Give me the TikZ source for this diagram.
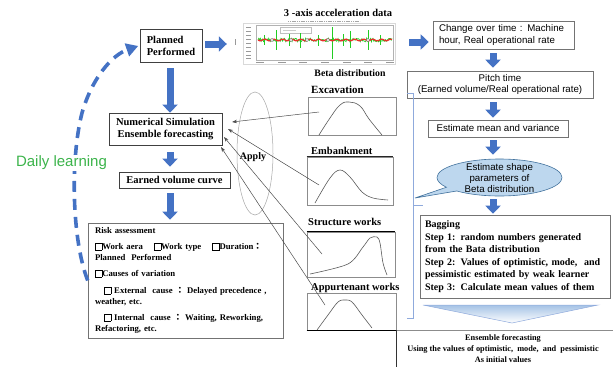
\documentclass[tikz,border=0pt]{standalone}
\usepackage{fontspec}
\setmainfont{Liberation Serif}
\setsansfont{Liberation Sans}
\newfontfamily\cjkfont{Noto Sans CJK JP}
\usetikzlibrary{arrows.meta,shapes.callouts,shapes.geometric,shadows}
\definecolor{blk}{HTML}{4472C4}
\definecolor{dlgreen}{HTML}{3CB44B}
\definecolor{callfill}{HTML}{BDD7EE}
\definecolor{callline}{HTML}{41719C}
\definecolor{bracecol}{HTML}{8FAADC}
\definecolor{sig}{HTML}{22CC22}
\definecolor{sigred}{HTML}{E8302A}
\newcommand\cbx{{\setlength{\fboxsep}{0pt}\setlength{\fboxrule}{0.5pt}\fbox{\rule{0pt}{6.3pt}\hspace{6.3pt}}}}
\newcommand\fcol{{\cjkfont ：}}
\begin{document}
\begin{tikzpicture}[x=1pt,y=-1pt,
  sbox/.style={draw=black!75, line width=0.7pt, fill=white, inner sep=0pt, font=\fontsize{10.5}{12}\selectfont\bfseries, align=center},
  shbox/.style={draw=black!55, line width=0.6pt, fill=white, inner sep=0pt, drop shadow={shadow xshift=1.3pt,shadow yshift=-1.3pt,fill=black!50,opacity=0.8}},
  sftext/.style={font=\sffamily\fontsize{9.7}{11}\selectfont},
  blockar/.style={draw=blk, line width=7pt, -{Triangle[length=8pt,width=15pt]}},
  thinar/.style={draw=black!70, line width=0.5pt, -{Stealth[length=5pt,width=3.5pt]}},
  distbox/.style={draw=black!45, line width=0.6pt, inner sep=0pt},
  curve/.style={draw=black!65, line width=0.6pt},
  lbl/.style={inner sep=0pt, font=\fontsize{10.5}{12}\selectfont\bfseries},
  tick/.style={draw=black!40, line width=0.8pt},
]
\useasboundingbox (0,0) rectangle (613,367);

% ---------- left column ----------
\node[sbox, minimum width=62pt, minimum height=33pt, align=left] (plan) at (171,45.5) {Planned\\Performed};
\node[sbox, minimum width=113pt, minimum height=32pt] (sim) at (165.5,129) {Numerical Simulation\\Ensemble forecasting};
\node[sbox, minimum width=111pt, minimum height=16pt] (earn) at (174.5,180) {Earned volume curve};
\node[shbox, minimum width=195pt, minimum height=115pt, text width=181pt, inner xsep=7pt, align=left,
      font=\fontsize{8.7}{11}\selectfont\bfseries] (risk) at (185.5,280.5)
 {Risk assessment\\[5pt]
  \cbx Work aera\hspace{11pt}\cbx Work type\hspace{11pt}\cbx Duration\fcol\\
  Planned\ \ Performed\\[5pt]
  \cbx Causes of variation\\[6pt]
  \hspace*{9pt}\cbx{} External\ \ cause \fcol\ Delayed precedence ,\\
  weather, etc.\\[5pt]
  \hspace*{9pt}\cbx{} Internal\ \ cause \fcol\ Waiting,\ Reworking,\\
  Refactoring, etc.};

\coordinate (ax) at (170,0);
\draw[blockar, shorten <=6pt] (ax |- plan.south) -- (ax |- sim.north);
\draw[blockar, shorten <=7pt, shorten >=5pt] (ax |- sim.south) -- (ax |- earn.north);
\draw[blockar, shorten <=5pt, shorten >=3pt] (ax |- earn.south) -- (ax |- risk.north);

% daily learning loop
\draw[blk, line width=3.6pt, dash pattern=on 11pt off 7pt, shorten >=1.5pt, -{Triangle[length=12pt,width=13pt]}]
  (risk.west) .. controls (72,240) and (70,160) .. (82,113) .. controls (92,78) and (112,55) .. (plan.west);
\node[font=\sffamily\fontsize{15}{18}\selectfont, text=dlgreen, fill=white, inner sep=1pt] (dl) at (61.5,163) {Daily learning};

% ---------- acceleration plot ----------
\node[lbl] (acct) at (338,13) {3 -axis acceleration data};
\node[inner sep=0pt, minimum width=154pt, minimum height=43pt] (plot) at (320,43.5) {};
\draw[black!15, line width=0.4pt] (243,23) rectangle (395,64);
\draw[black!30, line width=0.4pt] (256,25) rectangle (393,60);
\foreach \yy in {27,31,35,39,43,47,51,55,58} \draw[tick] (246,\yy) -- (251,\yy);
\draw[tick] (235,39) -- (235,45);
\foreach \xx in {260,282,303,325,347,368,390} \draw[tick] (\xx-4,62.5) -- (\xx+4,62.5);
\draw[black!35, line width=0.7pt, dash pattern=on 1.2pt off 0.6pt] (288,21.5) -- (360,21.5);
\draw[black!25, fill=white, line width=0.4pt] (280,27) rectangle (311,33);
\draw[black!20, line width=0.8pt] (283,30) -- (296,30);
\pgfmathsetseed{5}
\draw[sig, line width=0.7pt] plot[domain=258:392, samples=170] (\x,{40+1.8*rand});
\foreach \xx/\ya/\yb in {264/35/45, 276/30/50, 289/34/46, 300/33/48, 318/35/46, 332/27/59, 343/34/46, 350/31/48, 368/30/50, 380/35/45}
  \draw[sig, line width=0.6pt] (\xx,\ya) -- (\xx,\yb);
\draw[sigred, line width=1.2pt] plot[domain=258:392, samples=80] (\x,{40+0.9*sin((\x-258)*40)});
\foreach \xx in {272,291,307,328,368}
  \draw[black!60, fill=white, line width=0.4pt] (\xx,40) circle[radius=1.6pt];

\draw[blockar, shorten <=3pt, shorten >=16pt] (plan.east |- 0,44) -- (plot.west |- 0,44);

% ---------- beta distributions ----------
\node[lbl, font=\fontsize{9.8}{12}\selectfont\bfseries] (betal) at (350,73) {Beta distribution};
\node[lbl, anchor=west, font=\fontsize{11}{12}\selectfont\bfseries] (excl) at (311,90) {Excavation};
\node[lbl, anchor=west] (embl) at (311,151) {Embankment};
\node[lbl, anchor=west] (strl) at (308,222) {Structure works};
\node[lbl, anchor=west] (appl) at (311,288) {Appurtenant works};

\node[distbox, minimum width=88pt, minimum height=38pt] (exc) at (352,116) {};
\node[distbox, minimum width=86pt, minimum height=48pt] (emb) at (350,181) {};
\node[distbox, minimum width=88pt, minimum height=45pt] (stru) at (351,254.5) {};
\node[distbox, minimum width=89pt, minimum height=37.5pt] (app) at (351.5,311.75) {};
\draw[black!85, line width=0.9pt] (emb.north west) -- (emb.north east);
\draw[black, line width=1pt] (stru.north west) -- (stru.north east);
\draw[black, line width=1pt] (app.south west) -- (app.south east);

\draw[curve] plot[smooth, tension=0.7] coordinates {(319,135) (330,118) (340,105) (349,102) (360,106) (369,119) (382,135)};
\draw[curve] plot[smooth, tension=0.6] coordinates {(315,203) (330,178) (340,170) (350,177) (362,192) (373,198) (388,200)};
\draw[curve] plot[smooth, tension=0.5] coordinates {(310,274) (348,264) (363,247) (370,238) (377,237) (380,243) (383,263) (387,275)};
\draw[curve] plot[smooth, tension=0.6] coordinates {(317,330) (328,315) (338,302) (345,300) (352,302) (362,315) (372,328)};

% apply ellipse
\draw[black!35, line width=0.5pt] (255,153.5) ellipse [x radius=18pt, y radius=61.5pt];
\node[lbl, font=\fontsize{10}{12}\selectfont\bfseries] (apply) at (253,157) {Apply};

\coordinate (s1) at (319,112); \coordinate (e1) at (232,122);
\coordinate (s2) at (319,185); \coordinate (e2) at (228,129);
\coordinate (s3) at (322,254); \coordinate (e3) at (224,137);
\coordinate (s4) at (325,305); \coordinate (e4) at (221,147);
\draw[thinar] (s1) -- (e1);
\draw[thinar] (s2) -- (e2);
\draw[thinar] (s3) -- (e3);
\draw[thinar] (s4) -- (e4);

% ---------- right column ----------
\node[shbox, minimum width=141pt, minimum height=28pt, text width=129pt, inner xsep=6pt, align=left,
      font=\sffamily\fontsize{9.7}{12}\selectfont] (chg) at (503.5,35) {Change over time : Machine\\hour, Real operational rate};
\node[shbox, sftext, minimum width=186pt, minimum height=27pt, align=center] (pitch) at (500,84.5) {Pitch time\\(Earned volume/Real operational rate)};
\node[shbox, sftext, minimum width=140pt, minimum height=17pt] (est) at (498,128.5) {Estimate mean and variance};
\coordinate (bt) at (415,198);
\node[ellipse callout, draw=callline, fill=callfill, line width=0.6pt, minimum width=125pt, minimum height=37pt, inner sep=0pt,
      callout absolute pointer={(bt)}] (call) at (499.5,177.5) {};
\node[sftext, align=center, inner sep=0pt] (calltxt) at (499.5,178) {Estimate shape\\parameters of\\Beta distribution};
\node[shbox, minimum width=190pt, minimum height=83pt, text width=184pt, inner xsep=3pt, align=left,
      font=\fontsize{10}{12.6}\selectfont\bfseries] (bag) at (515,256.5)
 {\hspace*{2pt}Bagging\\\hspace*{2pt}Step 1: random numbers generated\\\hspace*{2pt}from the Bata distribution\\\hspace*{2pt}Step 2: Values of optimistic, mode,\ \ and\\\hspace*{2pt}pessimistic estimated by weak learner\\\hspace*{2pt}Step 3: Calculate mean values of them};

\draw[blockar, shorten <=12pt, shorten >=4pt] (plot.east |- 0,42) -- (chg.west |- 0,42);
\coordinate (bx) at (493,0);
\draw[blockar, shorten <=4pt, shorten >=3pt] (bx |- chg.south) -- (bx |- pitch.north);
\draw[blockar, shorten <=4pt, shorten >=2pt] (bx |- pitch.south) -- (bx |- est.north);
\draw[blockar, shorten <=3pt, shorten >=4pt] (bx |- est.south) -- (bx |- call.north);
\draw[blockar, shorten <=3pt, shorten >=1pt] (bx |- call.south) -- (bx |- bag.north);

% brace
\draw[bracecol, line width=0.8pt] (407,93) -- (413,93) -- (413,318) -- (407,318);
\draw[bracecol, line width=0.8pt] (413,205) -- (423,205);

% big flat arrow
\shade[top color=callfill!80!blk, bottom color=white] (423,305) -- (598,305) -- (512,323) -- cycle;
\draw[bracecol, line width=0.5pt] (423,305) -- (598,305) -- (512,323) -- cycle;

% ensemble box
\draw[black!45, line width=0.6pt] (613,330) -- (396,330);
\draw[black!80, line width=0.8pt] (396,330) -- (396,367);
\node[align=center, inner sep=0pt, font=\fontsize{8.3}{11}\selectfont\bfseries] (ens) at (503,348.5)
 {Ensemble forecasting\\Using the values of optimistic,\ \ mode,\ \ and\ \ pessimistic\\As initial values};
\end{tikzpicture}
\end{document}
